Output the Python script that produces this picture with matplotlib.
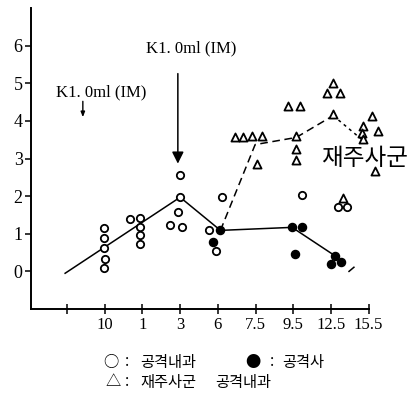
import matplotlib
matplotlib.use("Agg")
import matplotlib.pyplot as plt

# x positions are category slots; labels under them
tick_labels = ["", "10", "1", "3", "6", "7.5", "9.5", "12.5", "15.5"]

# open circles: 공격내과
open_x = [0.98, 0.98, 0.98, 1.0, 0.98, 1.67, 1.94, 1.94, 1.94, 1.94,
          3.0, 3.0, 2.95, 2.73, 3.05, 3.77, 4.11, 3.95, 6.23, 7.2, 7.43]
open_y = [1.14, 0.90, 0.61, 0.34, 0.08, 1.38, 1.43, 1.17, 0.98, 0.74,
          2.55, 1.97, 1.59, 1.22, 1.19, 1.09, 1.97, 0.53, 2.04, 1.72, 1.72]

# filled circles: 공격사
fill_x = [4.07, 3.87, 5.97, 6.23, 6.05, 7.1, 7.0, 7.27]
fill_y = [1.09, 0.77, 1.17, 1.17, 0.47, 0.42, 0.20, 0.24]

# triangles: 재주사군 공격내과
tri_x = [7.06, 6.9, 7.24, 5.87, 6.18, 4.46, 4.67, 4.91, 5.17, 5.04,
         6.08, 6.08, 6.08, 7.06, 8.09, 7.85, 8.25, 7.82, 7.85, 8.17, 7.32]
tri_y = [5.02, 4.73, 4.73, 4.40, 4.40, 3.58, 3.58, 3.60, 3.60, 2.86,
         3.61, 3.26, 2.97, 4.17, 4.14, 3.87, 3.74, 3.69, 3.53, 2.68, 1.96]

# mean lines
solid_x = [-0.05, 3.0, 4.07, 5.97, 7.1]
solid_y = [-0.05, 1.97, 1.09, 1.17, 0.42]
dash_x = [4.07, 4.99, 6.08, 7.06]
dash_y = [1.09, 3.37, 3.56, 4.14]
dot_x = [7.06, 7.85]
dot_y = [4.14, 3.48]
tail_x = [7.48, 7.61]
tail_y = [0.0, 0.11]

serif = "Liberation Serif"
kr = ["Noto Sans CJK KR", "DejaVu Sans"]

fig = plt.figure(figsize=(4.09, 3.93), dpi=100)
ax = fig.add_axes([0.0758, 0.2137, 0.8264, 0.7659])

ax.plot(solid_x, solid_y, color="black", lw=1.1)
ax.plot(dash_x, dash_y, color="black", lw=1.1, ls=(0, (5, 3)))
ax.plot(dot_x, dot_y, color="black", lw=1.1, ls=(0, (2, 2.5)))
ax.plot(tail_x, tail_y, color="black", lw=1.1)

ax.scatter(open_x, open_y, s=28, facecolors="white", edgecolors="black",
           linewidths=1.3, zorder=3, clip_on=False)
ax.scatter(fill_x, fill_y, s=34, color="black", zorder=3, clip_on=False)
ax.scatter(tri_x, tri_y, s=34, marker="^", facecolors="white",
           edgecolors="black", linewidths=1.3, zorder=3, clip_on=False)

# injection arrows
ax.annotate("", xy=(2.94, 2.79), xytext=(2.94, 5.33),
            arrowprops=dict(arrowstyle="-|>,head_length=0.7,head_width=0.35",
                            color="black", lw=1.1))
ax.annotate("", xy=(0.42, 4.1), xytext=(0.42, 4.52),
            arrowprops=dict(arrowstyle="-|>,head_length=0.3,head_width=0.12",
                            color="black", lw=1.0, shrinkA=0, shrinkB=0))
ax.text(3.3, 5.92, "K1. 0ml (IM)", family=serif, fontsize=12,
        ha="center", va="center")
ax.text(0.9, 4.75, "K1. 0ml (IM)", family=serif, fontsize=12,
        ha="center", va="center")
ax.text(7.9, 3.0, "재주사군", family=kr, fontsize=17,
        ha="center", va="center")

ax.set_xlim(-0.955, 8.01)
ax.set_ylim(-1.0, 7.0)
ax.set_xticks(range(len(tick_labels)))
ax.set_xticklabels(tick_labels, family=serif, fontsize=12)
ax.set_yticks(range(0, 7))
ax.set_yticklabels([str(v) for v in range(0, 7)], family=serif, fontsize=13)
ax.tick_params(axis="x", direction="inout", length=7, width=1.1, pad=2)
ax.tick_params(axis="y", direction="out", length=4, width=1.1, pad=2)

for s in ["top", "right"]:
    ax.spines[s].set_visible(False)
for s in ["left", "bottom"]:
    ax.spines[s].set_linewidth(1.4)

# legend written out below the axes
W, H = 409, 393
legend_rows = [
    (362, [(111, "○"), (127, ":"), (140, "공격내과"),
           (253, "●"), (272, ":"), (282, "공격사")]),
    (382, [(113, "△"), (127, ":"), (140, "재주사군"), (215, "공격내과")]),
]
for y, parts in legend_rows:
    for x, s in parts:
        ha = "left" if len(s) > 1 else "center"
        fig.text(x / W, 1 - y / H, s, family=kr, fontsize=11,
                 ha=ha, va="center")

fig.savefig("out.png", dpi=100)
